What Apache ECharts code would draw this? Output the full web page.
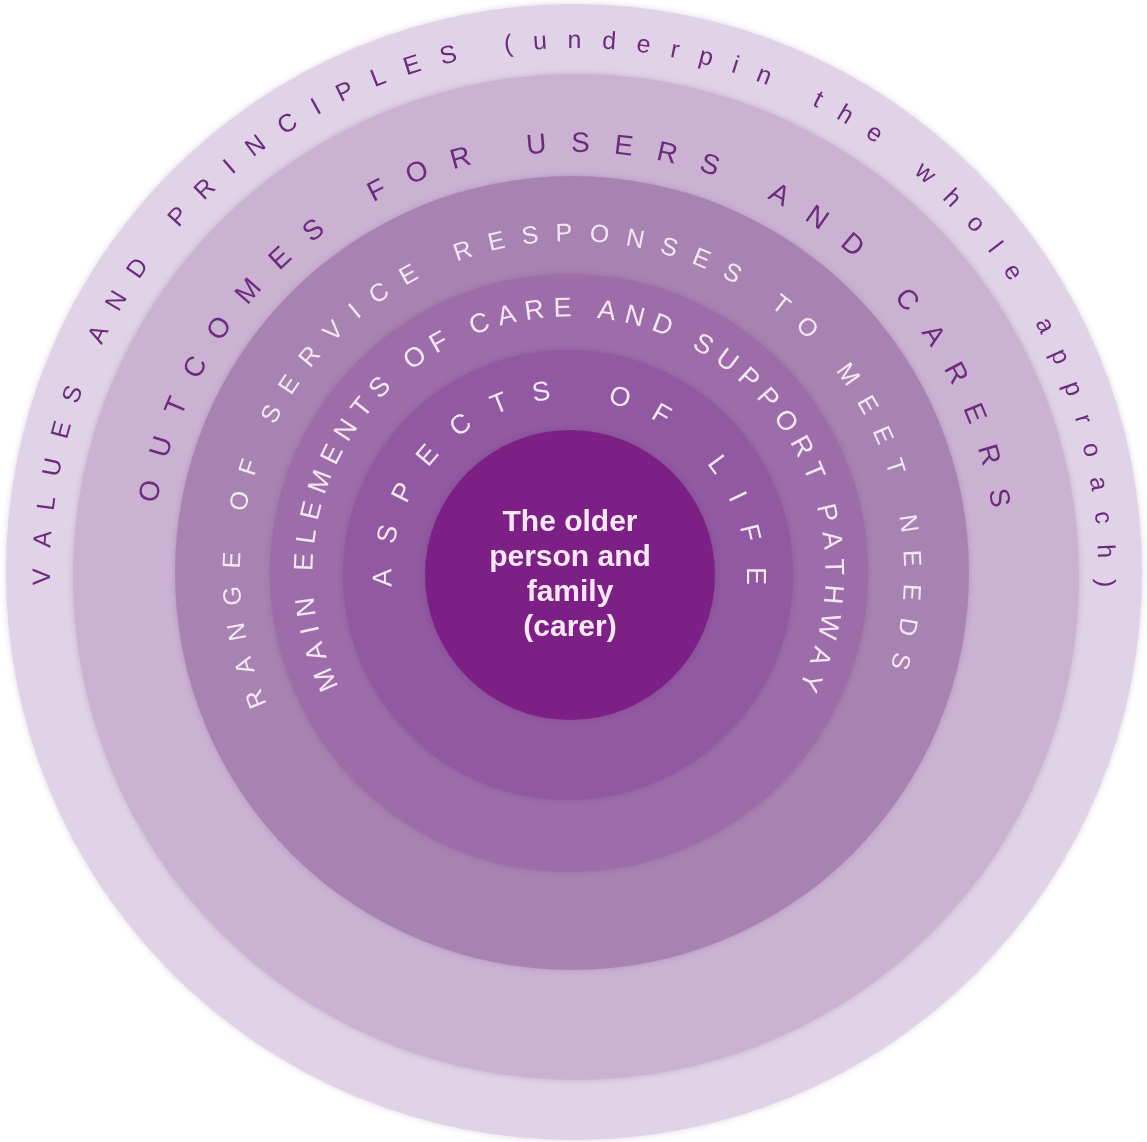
<!DOCTYPE html>
<html>
<head>
<meta charset="utf-8">
<script src="https://cdn.jsdelivr.net/npm/echarts@6/dist/echarts.min.js"></script>
<style>
html,body{margin:0;padding:0;background:#ffffff;}
#chart{width:1147px;height:1142px;}
</style>
</head>
<body>
<div id="chart"></div>
<script>
// ---------- data ----------
const layerNames = [
  'Values and principles',
  'Outcomes for users and carers',
  'Range of service responses',
  'Main elements of care and support pathway',
  'Aspects of life',
  'The older person and family (carer)'
];
const layerValues = [1, 1, 1, 1, 1, 1];
const ringTexts = [
  'VALUES AND PRINCIPLES (underpin the whole approach)',
  'OUTCOMES FOR USERS AND CARERS',
  'RANGE OF SERVICE RESPONSES TO MEET NEEDS',
  'MAIN ELEMENTS OF CARE AND SUPPORT PATHWAY',
  'ASPECTS OF LIFE'
];
const centerLines = ['The older', 'person and', 'family', '(carer)'];

// ---------- layout / style ----------
const FONT = '"Liberation Sans", Arial, Helvetica, sans-serif';
const discStyle = [
  { center: [574, 572], r: 568, color: '#e0d3e7' },
  { center: [576, 577], r: 503, color: '#cbb2d3' },
  { center: [572, 573], r: 397, color: '#a883b2' },
  { center: [569, 573], r: 299, color: '#9d6daa' },
  { center: [568, 575], r: 225, color: '#9059a1' },
  { center: [570, 575], r: 145, color: '#7c2086' }
];
const ringStyle = [
  { center: [574, 572], r: 531, from: -90.5, to: 91.2, size: 25, color: '#6c2c7c' },
  { center: [574, 575], r: 431, from: -78.8, to: 79.7, size: 28, color: '#6c2c7c' },
  { center: [572, 573], r: 339, from: -111.7, to: 105.0, size: 25, color: '#f5e6f6' },
  { center: [569, 573], r: 264, from: -113.7, to: 114.3, size: 27, color: '#f5e6f6' },
  { center: [569, 576], r: 185, from: -90.6, to: 90.0, size: 27, color: '#f5e6f6' }
];
const AXIS_MAX = 600;

// ---------- build character positions along arcs ----------
const mctx = document.createElement('canvas').getContext('2d');
const ringChars = ringTexts.map(function (txt, k) {
  const st = ringStyle[k];
  const font = 'normal ' + st.size + 'px ' + FONT;
  mctx.font = font;
  const list = txt.split('');
  const w = list.map(function (c) { return mctx.measureText(c).width; });
  const n = list.length;
  const arc = st.r * (st.to - st.from) * Math.PI / 180;
  let base = 0;
  for (let j = 0; j < n - 1; j++) base += w[j];
  base += w[n - 1] / 2 - w[0] / 2;
  const track = (arc - base) / (n - 1);
  const out = [];
  let s = 0;
  for (let i = 0; i < n; i++) {
    if (i > 0) s += w[i - 1] / 2 + track + w[i] / 2;
    const theta = st.from + (s / st.r) * 180 / Math.PI;
    if (list[i] !== ' ') {
      out.push({ value: [st.r, (theta + 360) % 360], ch: list[i], theta: theta, font: font, color: st.color });
    }
  }
  return out;
});

// ---------- series ----------
const series = [];
discStyle.forEach(function (d, i) {
  const isCenter = i === discStyle.length - 1;
  series.push({
    type: 'pie',
    name: layerNames[i],
    center: d.center,
    radius: [0, d.r],
    z: 1 + i,
    silent: true,
    startAngle: 90,
    itemStyle: {
      color: d.color,
      shadowBlur: 6,
      shadowColor: 'rgba(70,20,80,0.18)'
    },
    label: isCenter ? {
      show: true,
      position: 'center',
      formatter: centerLines.join('\n'),
      color: '#f8e8f6',
      fontFamily: FONT,
      fontWeight: 'bold',
      fontSize: 30,
      lineHeight: 35,
      padding: [7, 0, 0, 0]
    } : { show: false },
    labelLine: { show: false },
    emphasis: { disabled: true },
    data: [{ value: layerValues[i], name: layerNames[i] }]
  });
});

const polars = [], angleAxes = [], radiusAxes = [];
ringChars.forEach(function (list, k) {
  polars.push({ center: ringStyle[k].center, radius: AXIS_MAX });
  angleAxes.push({ polarIndex: k, type: 'value', min: 0, max: 360, startAngle: 90, clockwise: true, show: false });
  radiusAxes.push({ polarIndex: k, type: 'value', min: 0, max: AXIS_MAX, show: false });
  series.push({
    type: 'custom',
    name: layerNames[k] + ' label',
    coordinateSystem: 'polar',
    polarIndex: k,
    z: 20,
    silent: true,
    data: list.map(function (c) { return c.value; }),
    renderItem: function (params, api) {
      const c = list[params.dataIndex];
      const p = api.coord([api.value(0), api.value(1)]);
      return {
        type: 'text',
        x: p[0],
        y: p[1],
        rotation: -c.theta * Math.PI / 180,
        style: {
          text: c.ch,
          fill: c.color,
          font: c.font,
          align: 'center',
          verticalAlign: 'middle'
        }
      };
    }
  });
});

const option = {
  animation: false,
  backgroundColor: '#ffffff',
  polar: polars,
  angleAxis: angleAxes,
  radiusAxis: radiusAxes,
  series: series
};

const chart = echarts.init(document.getElementById('chart'), null, { renderer: 'canvas' });
chart.setOption(option);
</script>
</body>
</html>
